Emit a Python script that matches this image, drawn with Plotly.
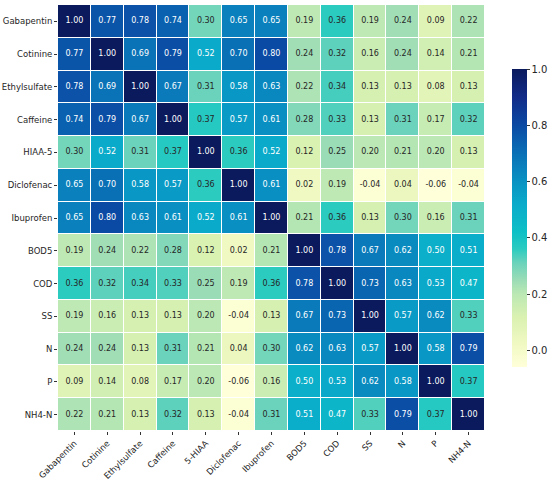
import plotly.graph_objects as go

row_labels = ['Gabapentin', 'Cotinine', 'Ethylsulfate', 'Caffeine', 'HIAA-5', 'Diclofenac',
              'Ibuprofen', 'BOD5', 'COD', 'SS', 'N', 'P', 'NH4-N']
col_labels = ['Gabapentin', 'Cotinine', 'Ethylsulfate', 'Caffeine', '5-HIAA', 'Diclofenac',
              'Ibuprofen', 'BOD5', 'COD', 'SS', 'N', 'P', 'NH4-N']

corr = [
    [1.00, 0.77, 0.78, 0.74, 0.30, 0.65, 0.65, 0.19, 0.36, 0.19, 0.24, 0.09, 0.22],
    [0.77, 1.00, 0.69, 0.79, 0.52, 0.70, 0.80, 0.24, 0.32, 0.16, 0.24, 0.14, 0.21],
    [0.78, 0.69, 1.00, 0.67, 0.31, 0.58, 0.63, 0.22, 0.34, 0.13, 0.13, 0.08, 0.13],
    [0.74, 0.79, 0.67, 1.00, 0.37, 0.57, 0.61, 0.28, 0.33, 0.13, 0.31, 0.17, 0.32],
    [0.30, 0.52, 0.31, 0.37, 1.00, 0.36, 0.52, 0.12, 0.25, 0.20, 0.21, 0.20, 0.13],
    [0.65, 0.70, 0.58, 0.57, 0.36, 1.00, 0.61, 0.02, 0.19, -0.04, 0.04, -0.06, -0.04],
    [0.65, 0.80, 0.63, 0.61, 0.52, 0.61, 1.00, 0.21, 0.36, 0.13, 0.30, 0.16, 0.31],
    [0.19, 0.24, 0.22, 0.28, 0.12, 0.02, 0.21, 1.00, 0.78, 0.67, 0.62, 0.50, 0.51],
    [0.36, 0.32, 0.34, 0.33, 0.25, 0.19, 0.36, 0.78, 1.00, 0.73, 0.63, 0.53, 0.47],
    [0.19, 0.16, 0.13, 0.13, 0.20, -0.04, 0.13, 0.67, 0.73, 1.00, 0.57, 0.62, 0.33],
    [0.24, 0.24, 0.13, 0.31, 0.21, 0.04, 0.30, 0.62, 0.63, 0.57, 1.00, 0.58, 0.79],
    [0.09, 0.14, 0.08, 0.17, 0.20, -0.06, 0.16, 0.50, 0.53, 0.62, 0.58, 1.00, 0.37],
    [0.22, 0.21, 0.13, 0.32, 0.13, -0.04, 0.31, 0.51, 0.47, 0.33, 0.79, 0.37, 1.00],
]

zmin = min(min(r) for r in corr)
zmax = 1.0
n = len(col_labels)

# punchy YlGnBu as it looks in the picture (value -> colour)
cmap_vals = [-0.06, 0.02, 0.12, 0.20, 0.25, 0.31, 0.36, 0.42, 0.52, 0.60, 0.70, 0.80, 0.90, 1.00]
cmap_cols = ['#ffffd9', '#f1f9c3', '#d9f1b1', '#bbe8b4', '#9adcb6', '#6bd3bb', '#2bcbc0',
             '#0dc0c6', '#0aabca', '#0992c3', '#0a70b6', '#0b4aa4', '#122c88', '#0a1a5c']
colorscale = [[(v - zmin) / (zmax - zmin), c] for v, c in zip(cmap_vals, cmap_cols)]

fig = go.Figure()
fig.add_trace(go.Heatmap(
    z=corr, x=col_labels, y=row_labels,
    colorscale=colorscale,
    zmin=zmin, zmax=zmax,
    xgap=1, ygap=1, hoverinfo='skip',
    colorbar=dict(
        xref='container', x=512 / 550, xanchor='left', xpad=0,
        yref='container', y=1 - 78 / 480, yanchor='top', ypad=0,
        lenmode='pixels', len=298, thickness=15, outlinewidth=0,
        tickvals=[0.0, 0.2, 0.4, 0.6, 0.8, 1.0], tickformat='.1f',
        ticks='outside', ticklen=3, tickcolor='#333',
        tickfont=dict(size=10, color='#262626'),
    ),
))

# cell labels, light text on dark cells
xs, ys, txt, cols = [], [], [], []
for i, r in enumerate(row_labels):
    for j, c in enumerate(col_labels):
        v = corr[i][j]
        xs.append(c)
        ys.append(r)
        txt.append(f'{v:.2f}')
        cols.append('white' if v >= 0.45 else '#262626')

fig.add_trace(go.Scatter(
    x=xs, y=ys, text=txt, mode='text',
    textfont=dict(size=8, color=cols, family='DejaVu Sans'),
    hoverinfo='skip', showlegend=False,
))

fig.update_layout(
    width=550, height=480,
    margin=dict(l=58, r=65, t=5, b=49, autoexpand=False),
    paper_bgcolor='white', plot_bgcolor='white',
    font=dict(family='DejaVu Sans', color='#262626'),
    showlegend=False,
)
fig.update_xaxes(
    range=[-0.5, n - 0.5],
    tickangle=-45, tickfont=dict(size=8.5), ticks='outside', ticklen=3,
    tickcolor='#333', showgrid=False, zeroline=False, automargin=False,
)
fig.update_yaxes(
    range=[n - 0.5, -0.5], tickfont=dict(size=8.5), ticks='outside', ticklen=3,
    tickcolor='#333', showgrid=False, zeroline=False, automargin=False,
)

# drop the default body margin so the 550x480 figure fills the window exactly
fig.write_html('out.html', config={'displayModeBar': False},
               post_script="document.body.style.margin='0';")
